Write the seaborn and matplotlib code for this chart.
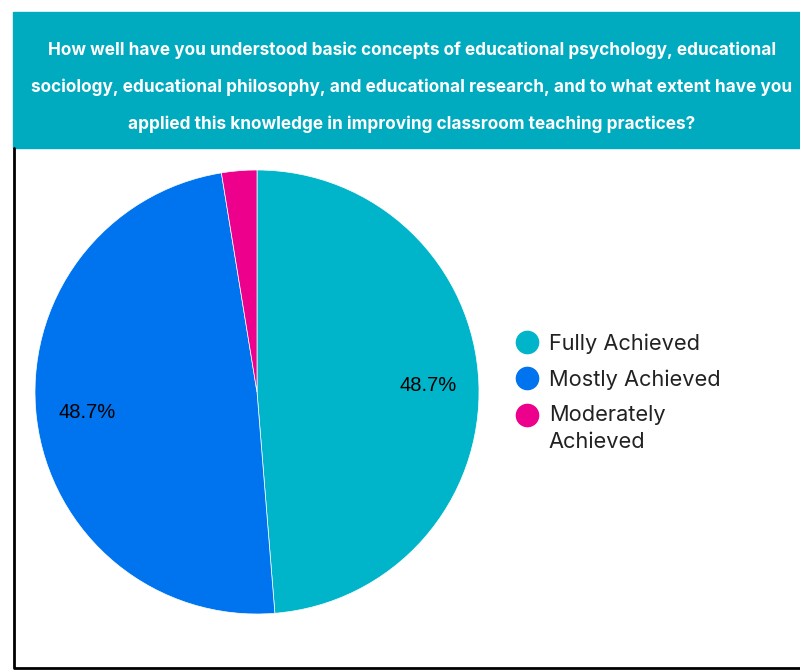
import matplotlib
matplotlib.use("Agg")
import matplotlib.pyplot as plt
from matplotlib.lines import Line2D
from matplotlib.patches import Rectangle
import seaborn as sns

# 数据
categories = ["Fully Achieved", "Mostly Achieved", "Moderately\nAchieved"]
counts = [19, 19, 1]
colors = ["#00B5C9", "#0073EE", "#EC008C"]
title_lines = [
    "How well have you understood basic concepts of educational psychology, educational",
    "sociology, educational philosophy, and educational research, and to what extent have you",
    "applied this knowledge in improving classroom teaching practices?",
]

sns.set_style("white")
plt.rcParams['font.family'] = ['Inter', 'DejaVu Sans']

W, H = 800, 670
fig = plt.figure(figsize=(8, 6.7), dpi=100)

# 标题横幅
fig.patches.append(Rectangle((13 / W, 1 - 148 / H), 1 - 13 / W, 136 / H,
                             transform=fig.transFigure, color="#00AABF", zorder=0))
for i, line in enumerate(title_lines):
    fig.text(412 / W, 1 - (50 + 37 * i) / H, line, ha="center", va="center",
             color="white", fontsize=12.4, fontweight="bold")

# 边框
fig.lines.append(Line2D([14 / W, 14 / W, 1], [1 - 148 / H, 1 - 668 / H, 1 - 668 / H],
                        transform=fig.transFigure, color="black", lw=2))

# 饼图
r = 222
cx, cy = 257, 392
ax = fig.add_axes([(cx - r) / W, 1 - (cy + r) / H, 2 * r / W, 2 * r / H])
pal = sns.color_palette(colors)
wedges, texts, autotexts = ax.pie(counts, colors=pal, startangle=90, counterclock=False,
                                  autopct=lambda p: f"{p:.1f}%" if p > 5 else "",
                                  pctdistance=0.77,
                                  wedgeprops=dict(linewidth=0.5, edgecolor="white"),
                                  textprops=dict(fontsize=14.5, family="Liberation Sans", color="black"))
ax.set_xlim(-1, 1)
ax.set_ylim(-1, 1)
ax.set_aspect("equal")
ax.axis("off")

# 图例
handles = [Line2D([0], [0], marker="o", linestyle="", markersize=16,
                  markerfacecolor=c, markeredgecolor=c) for c in colors]
leg = fig.legend(handles, categories, loc="upper left",
                 bbox_to_anchor=(491 / W, 1 - 314 / H), frameon=False,
                 fontsize=15.7, handletextpad=0.25, labelspacing=0.7, handlelength=1.5,
                 labelcolor="#222222")
for t in leg.get_texts():
    t.set_linespacing(1.4)
# 多行标签的圆点对齐第一行
h = leg.legend_handles[2]
h.set_ydata([v + 10 for v in h.get_ydata()])

plt.savefig("out.png", dpi=100)
